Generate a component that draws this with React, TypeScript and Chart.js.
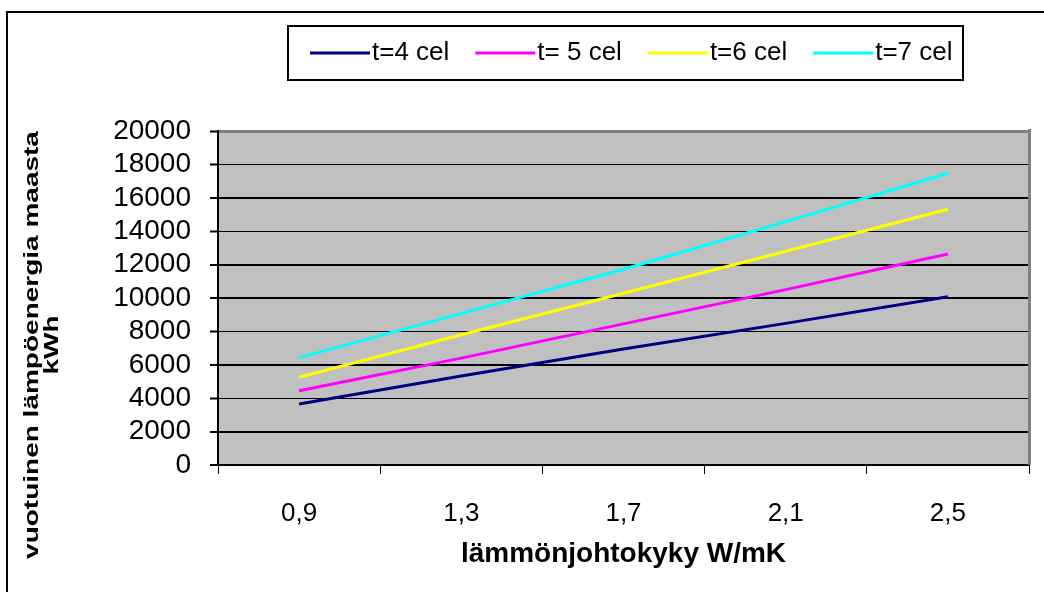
import React, { useEffect, useRef } from 'react';
import { Chart, registerables } from 'chart.js';

Chart.register(...registerables);

// ---- data ----
const categories = ['0,9', '1,3', '1,7', '2,1', '2,5'];
const seriesLabels = ['t=4 cel', 't= 5 cel', 't=6 cel', 't=7 cel'];
const t4 = [3650, 5330, 6950, 8480, 10070];
const t5 = [4450, 6400, 8450, 10500, 12630];
const t6 = [5250, 7800, 10280, 12800, 15310];
const t7 = [6430, 9080, 11720, 14570, 17470];
const yMin = 0;
const yMax = 20000;
const yStep = 2000;
const yTitleLines = ['vuotuinen lämpöenergia maasta', 'kWh'];
const xTitle = 'lämmönjohtokyky W/mK';

const seriesColors = ['#000080', '#FF00FF', '#FFFF00', '#00FFFF'];
const FONT = '"Liberation Sans", Arial, Helvetica, sans-serif';
const thinGrid = [4000, 8000, 14000, 18000];

const decorPlugin = {
  id: 'excelDecor',
  beforeDraw(chart: any) {
    const { ctx, chartArea } = chart;
    ctx.save();
    ctx.fillStyle = '#ffffff';
    ctx.fillRect(0, 0, chart.width, chart.height);
    // outer frame
    ctx.strokeStyle = '#000';
    ctx.lineWidth = 2;
    ctx.strokeRect(7, 12, chart.width + 20, chart.height + 20);
    // plot area background
    ctx.fillStyle = '#C0C0C0';
    ctx.fillRect(chartArea.left, chartArea.top, chartArea.right - chartArea.left, chartArea.bottom - chartArea.top);
    ctx.restore();
  },
  beforeDatasetsDraw(chart: any) {
    const { ctx, chartArea } = chart;
    ctx.save();
    ctx.strokeStyle = '#808080';
    ctx.lineWidth = 3;
    ctx.beginPath();
    ctx.moveTo(chartArea.right + 0.5, chartArea.top - 2);
    ctx.lineTo(chartArea.right + 0.5, chartArea.bottom);
    ctx.stroke();
    ctx.restore();
  },
  afterDraw(chart: any) {
    const { ctx } = chart;
    ctx.save();
    // legend box
    const lx = 288, ly = 26, lw = 675, lh = 54;
    ctx.strokeStyle = '#000';
    ctx.lineWidth = 2;
    ctx.strokeRect(lx, ly, lw, lh);
    const cy = ly + lh / 2;
    let x = lx + 22;
    ctx.font = `26px ${FONT}`;
    ctx.textBaseline = 'middle';
    ctx.textAlign = 'left';
    chart.data.datasets.forEach((ds: any) => {
      ctx.strokeStyle = ds.borderColor;
      ctx.lineWidth = 3;
      ctx.beginPath();
      ctx.moveTo(x, cy);
      ctx.lineTo(x + 60, cy);
      ctx.stroke();
      ctx.fillStyle = '#000';
      ctx.fillText(ds.label, x + 62, cy);
      x += 62 + ctx.measureText(ds.label).width + 26;
    });
    ctx.restore();

    // y axis title (condensed across its height like the original)
    ctx.save();
    ctx.translate(32, 345);
    ctx.rotate(-Math.PI / 2);
    ctx.scale(1, 0.74);
    ctx.font = `bold 28px ${FONT}`;
    ctx.textAlign = 'center';
    ctx.textBaseline = 'middle';
    ctx.fillStyle = '#000';
    yTitleLines.forEach((line, i) => ctx.fillText(line, 0, i * 27));
    ctx.restore();
  },
};

export default function App() {
  const canvasRef = useRef<HTMLCanvasElement | null>(null);

  useEffect(() => {
    if (!canvasRef.current) return;
    const seriesData = [t4, t5, t6, t7];
    const chart = new Chart(canvasRef.current, {
      type: 'line',
      data: {
        labels: categories,
        datasets: seriesData.map((d, i) => ({
          label: seriesLabels[i],
          data: d,
          borderColor: seriesColors[i],
          backgroundColor: seriesColors[i],
          borderWidth: 3,
          pointRadius: 0,
          tension: 0,
          fill: false,
        })),
      },
      options: {
        animation: false,
        responsive: false,
        layout: { padding: { top: 131, right: 15, bottom: 0, left: 0 } },
        plugins: {
          legend: { display: false },
          tooltip: { enabled: false },
        },
        scales: {
          x: {
            offset: true,
            ticks: {
              color: '#000',
              font: { family: FONT, size: 26 },
              padding: 24,
              maxRotation: 0,
              autoSkip: false,
            },
            grid: {
              offset: true,
              drawOnChartArea: false,
              drawTicks: true,
              tickLength: 9,
              color: '#000',
              lineWidth: 1,
            },
            border: { display: true, color: '#000', width: 2 },
            title: {
              display: true,
              text: xTitle,
              color: '#000',
              font: { family: FONT, size: 28, weight: 'bold' },
              padding: { top: 0, bottom: 21 },
            },
            afterFit: (s: any) => {
              s.height = 127;
            },
          },
          y: {
            min: yMin,
            max: yMax,
            ticks: {
              stepSize: yStep,
              autoSkip: false,
              color: '#000',
              font: { family: FONT, size: 28 },
              padding: 19,
              callback: (v: any) => String(v),
            },
            grid: {
              color: (c: any) => (c.tick && c.tick.value === yMax ? '#808080' : '#000'),
              lineWidth: (c: any) =>
                c.tick && c.tick.value === yMax ? 3 : c.tick && thinGrid.includes(c.tick.value) ? 1 : 2,
              drawTicks: true,
              tickLength: 8,
              tickColor: '#000',
              tickWidth: 2,
            },
            border: { display: true, color: '#000', width: 2 },
            afterFit: (s: any) => {
              s.width = 218;
            },
          },
        },
      },
      plugins: [decorPlugin],
    });
    return () => chart.destroy();
  }, []);

  return (
    <div style={{ position: 'fixed', left: 0, top: 0, width: 1044, height: 592, background: '#fff' }}>
      <canvas ref={canvasRef} width={1044} height={592} />
    </div>
  );
}
